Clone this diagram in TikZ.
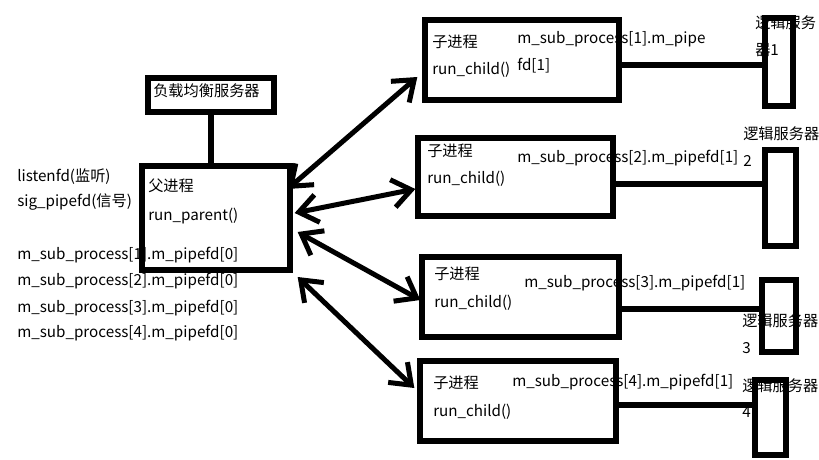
\documentclass[tikz,border=0pt]{standalone}
\usepackage{fontspec}
\setmainfont{Noto Sans CJK SC}
\usepackage{tikz}
\usetikzlibrary{arrows.meta}
\tikzset{>={Straight Barb[length=14pt,width=21pt]}}
\usetikzlibrary{calc}

\begin{document}
\begin{tikzpicture}[x=0.75pt,y=-0.75pt,
    every node/.style={font=\fontsize{11.4}{13}\selectfont},
    txt/.style={anchor=west,inner sep=0pt,text height=8.5pt,text depth=2.5pt},
    box/.style={draw,line width=4pt,inner sep=0pt}]
    \useasboundingbox (0,0) rectangle (819,460);
    \node[txt] at (17,177) (07d1c2aa) {listenfd(监听)};
    \node[txt] at (17,203) (3f9e0b71) {sig\_pipefd(信号)};
    \node[txt] at (17,256) (b25a8c4e) {m\_sub\_process[1].m\_pipefd[0]};
    \node[txt] at (17,282) (6c0f3d92) {m\_sub\_process[2].m\_pipefd[0]};
    \node[txt] at (17,308) (d84b17e5) {m\_sub\_process[3].m\_pipefd[0]};
    \node[txt] at (17,333) (2a7e9f06) {m\_sub\_process[4].m\_pipefd[0]};
    \node[txt] at (153,93) (f1c04d38) {负载均衡服务器};
    \node[txt] at (148,188) (58b3e2a7) {父进程};
    \node[txt] at (148,217) (ae26d0f4) {run\_parent()};
    \node[txt] at (432,44) (4d91c7b0) {子进程};
    \node[txt] at (432,71) (90e5a3c1) {run\_child()};
    \node[txt] at (517,40) (c7f28e15) {m\_sub\_process[1].m\_pipe};
    \node[txt] at (517,67) (1b6d4a9e) {fd[1]};
    \node[txt] at (427,153) (e03a5f72) {子进程};
    \node[txt] at (427,180) (73c8b1d6) {run\_child()};
    \node[txt] at (517,159) (8e4f90a3) {m\_sub\_process[2].m\_pipefd[1]};
    \node[txt] at (434,276) (29b7e6c5) {子进程};
    \node[txt] at (434,303) (f6a13d08) {run\_child()};
    \node[txt] at (524,283) (5d02c9b4) {m\_sub\_process[3].m\_pipefd[1]};
    \node[txt] at (433,384) (b8e7142f) {子进程};
    \node[txt] at (433,412) (0c5fa6e3) {run\_child()};
    \node[txt] at (512,382) (a4d63b97) {m\_sub\_process[4].m\_pipefd[1]};
    \node[box,minimum width=94.5pt,minimum height=25.5pt] at (211,95) (4be1a09c) {};
    \node[box,minimum width=111pt,minimum height=78pt] at (216,218) (9f2d63e0) {};
    \node[box,minimum width=145.5pt,minimum height=60pt] at (522,60) (c3a17b52) {};
    \node[box,minimum width=146.25pt,minimum height=58.5pt] at (515.5,177) (5e80d4f1) {};
    \node[box,minimum width=147.75pt,minimum height=60pt] at (520.5,297) (a7c94e2b) {};
    \node[box,minimum width=147pt,minimum height=60pt] at (518,401) (1d6b8f37) {};
    \node[box,minimum width=21pt,minimum height=66pt] at (779,62) (e24f0a96) {};
    \node[box,minimum width=23.25pt,minimum height=72pt] at (780.5,198) (8b3c51d7) {};
    \node[box,minimum width=25.5pt,minimum height=54pt] at (779,316) (6fa2e813) {};
    \node[box,minimum width=23.25pt,minimum height=56.25pt] at (770.5,417.5) (b90d7c45) {};
    \node[txt] at (755,25) (3e8a07cd) {逻辑服务};
    \node[txt] at (755,52) (92f1b64a) {器1};
    \node[txt] at (743,136) (7b05e3f9) {逻辑服务器};
    \node[txt] at (743,163) (c61d8a20) {2};
    \node[txt] at (742,322) (0f4b29e6) {逻辑服务器};
    \node[txt] at (742,349) (e9a7c513) {3};
    \node[txt] at (742,387) (45c3f08b) {逻辑服务器};
    \node[txt] at (742,413) (d2b96e71) {4};
    \draw[line width=4pt] (4be1a09c.south) -- (4be1a09c.south |- 9f2d63e0.north);
    \path[<->, line width=3.75pt]
    ($(9f2d63e0.east)+(-5,-29)$) edge ($(c3a17b52.west)+(-5,17)$)
    ($(9f2d63e0.east)+(2,-5)$) edge ($(5e80d4f1.west)+(0,12)$)
    ($(9f2d63e0.east)+(5,14)$) edge ($(a7c94e2b.west)+(1,3)$)
    ($(9f2d63e0.east)+(5,59)$) edge ($(1d6b8f37.west)+(-3,-13)$)
    ;
    \path[line width=4pt]
    ($(c3a17b52.east)+(0,5)$) edge ($(e24f0a96.west)+(0,3)$)
    ($(5e80d4f1.east)+(0,7)$) edge ($(8b3c51d7.west)+(0,-14)$)
    ($(a7c94e2b.east)+(0,12)$) edge ($(6fa2e813.west)+(0,-7)$)
    ($(1d6b8f37.east)+(0,4)$) edge ($(b90d7c45.west)+(0,-12.5)$)
    ;
\end{tikzpicture}
\end{document}
